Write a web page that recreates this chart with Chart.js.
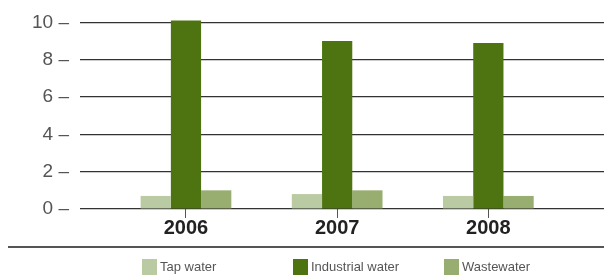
<!DOCTYPE html>
<html>
<head>
<meta charset="utf-8">
<script src="https://cdn.jsdelivr.net/npm/chart.js@4/dist/chart.umd.min.js"></script>
<style>
  html, body { margin: 0; padding: 0; background: #fff; }
  #wrap { position: relative; width: 604px; height: 276px; overflow: hidden; }
  #c { position: absolute; left: 0; top: 0; }
  #sep { position: absolute; left: 8px; right: 0; top: 246px; height: 2px; background: #555; }
  .lg { position: absolute; top: 259px; height: 16px; font: 13px "Liberation Sans", Arial, Helvetica, sans-serif; color: #555; line-height: 16px; white-space: nowrap; }
  .lg span.box { position: absolute; left: 0; top: 0; width: 15px; height: 16px; }
  .lg span.txt { position: absolute; left: 18px; top: 0; }
</style>
</head>
<body>
<div id="wrap">
  <canvas id="c" width="604" height="276"></canvas>
  <div id="sep"></div>
  <div id="legend"></div>
</div>
<script>
const categories = ['2006', '2007', '2008'];
const seriesNames = ['Tap water', 'Industrial water', 'Wastewater'];
const tapWater = [0.7, 0.8, 0.7];
const industrialWater = [10.1, 9.0, 8.9];
const wastewater = [1.0, 1.0, 0.7];
const yTicks = [0, 2, 4, 6, 8, 10];
const colors = ['#bacba3', '#4d7410', '#98ae70'];

const series = [tapWater, industrialWater, wastewater];
const datasets = series.map((vals, si) => ({
  label: seriesNames[si],
  data: vals.map((v, i) => ({ x: i, y: v })),
  backgroundColor: colors[si],
  borderWidth: 0,
  categoryPercentage: 0.6,
  barPercentage: 1.0,
  clip: false
}));

const FONT = '"Liberation Sans", Arial, Helvetica, sans-serif';

const chart = new Chart(document.getElementById('c'), {
  type: 'bar',
  data: { datasets },
  options: {
    responsive: false,
    animation: false,
    events: [],
    layout: { padding: { top: 20, right: 0, left: 0, bottom: 0 } },
    plugins: { legend: { display: false }, tooltip: { enabled: false } },
    scales: {
      x: {
        type: 'linear',
        min: -0.701,
        max: 2.765,
        offset: false,
        afterBuildTicks: (s) => { s.ticks = categories.map((c, i) => ({ value: i })); },
        afterFit: (s) => { s.height = 67; },
        ticks: {
          callback: (v) => categories[v] ?? '',
          font: { family: FONT, size: 20, weight: 'bold' },
          color: '#222',
          padding: -2,
          maxRotation: 0,
          autoSkip: false
        },
        grid: { offset: false, drawOnChartArea: false, drawTicks: true, tickLength: 9, color: '#555', lineWidth: 1 },
        border: { display: false }
      },
      y: {
        min: 0,
        max: 10,
        afterBuildTicks: (s) => { s.ticks = yTicks.map(v => ({ value: v })); },
        afterFit: (s) => { s.width = 80; },
        ticks: {
          callback: (v) => v + ' \u2013',
          font: { family: FONT, size: 19 },
          color: '#555',
          padding: 11
        },
        grid: { drawTicks: false, color: '#333', lineWidth: 1.2 },
        border: { display: false }
      }
    }
  }
});

// HTML legend, positioned at each group's left bar edge
const legend = document.getElementById('legend');
const xs = chart.scales.x;
const groupHalf = (xs.getPixelForValue(1) - xs.getPixelForValue(0)) * 0.6 / 2;
seriesNames.forEach((name, i) => {
  const d = document.createElement('div');
  d.className = 'lg';
  d.style.left = Math.round(xs.getPixelForValue(i) - groupHalf + 1) + 'px';
  d.innerHTML = '<span class="box" style="background:' + colors[i] + '"></span><span class="txt">' + name + '</span>';
  legend.appendChild(d);
});
</script>
</body>
</html>
